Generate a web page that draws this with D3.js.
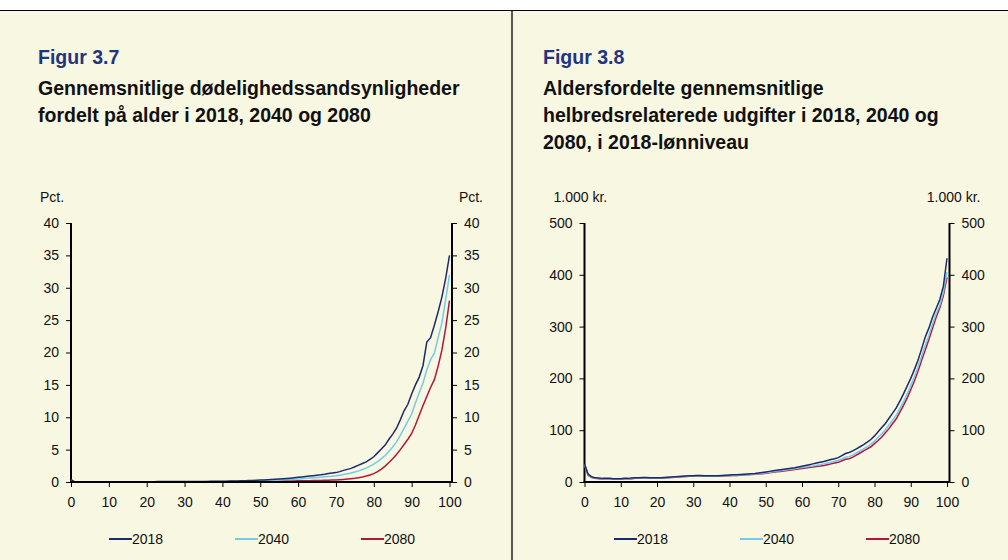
<!DOCTYPE html>
<html>
<head>
<meta charset="utf-8">
<script src="https://cdn.jsdelivr.net/npm/d3@7"></script>
<style>
  body { margin: 0; background: #fff; }
  svg { display: block; font-family: "Liberation Sans", Arial, sans-serif; }
</style>
</head>
<body>
<script>
// ages 0..100 (alder)
var ages = d3.range(0, 101);
var years = ["2018", "2040", "2080"];
var xTicks = [0, 10, 20, 30, 40, 50, 60, 70, 80, 90, 100];

// Figur 3.7 - dødelighedssandsynligheder, pct.
var mort2018 = [0.36, 0.03, 0.02, 0.01, 0.01, 0.01, 0.01, 0.01, 0.01, 0.01,
    0.01, 0.01, 0.01, 0.02, 0.02, 0.02, 0.03, 0.03, 0.04, 0.05,
    0.05, 0.05, 0.05, 0.06, 0.06, 0.06, 0.06, 0.06, 0.06, 0.07,
    0.07, 0.07, 0.07, 0.08, 0.08, 0.08, 0.09, 0.10, 0.11, 0.11,
    0.12, 0.13, 0.15, 0.16, 0.17, 0.19, 0.20, 0.22, 0.24, 0.26,
    0.29, 0.32, 0.34, 0.37, 0.41, 0.45, 0.49, 0.54, 0.59, 0.65,
    0.72, 0.78, 0.84, 0.91, 0.98, 1.06, 1.12, 1.2, 1.3, 1.38,
    1.45, 1.6, 1.8, 1.95, 2.1, 2.35, 2.6, 2.85, 3.1, 3.5,
    3.9, 4.5, 5.1, 5.7, 6.6, 7.4, 8.3, 9.6, 11.0, 12.0,
    13.6, 15.0, 16.2, 18.0, 21.6, 22.3, 24.2, 26.3, 28.6, 31.5,
    35.0];
var mort2040 = [0.26, 0.02, 0.01, 0.01, 0.01, 0.01, 0.01, 0.01, 0.01, 0.01,
    0.01, 0.01, 0.01, 0.01, 0.02, 0.02, 0.02, 0.02, 0.03, 0.03,
    0.04, 0.04, 0.04, 0.04, 0.04, 0.04, 0.04, 0.04, 0.04, 0.04,
    0.05, 0.05, 0.05, 0.05, 0.05, 0.05, 0.06, 0.06, 0.07, 0.07,
    0.08, 0.09, 0.10, 0.11, 0.12, 0.13, 0.14, 0.15, 0.17, 0.18,
    0.20, 0.22, 0.24, 0.26, 0.28, 0.31, 0.34, 0.37, 0.40, 0.44,
    0.48, 0.52, 0.56, 0.60, 0.65, 0.70, 0.75, 0.80, 0.85, 0.90,
    0.96, 1.05, 1.15, 1.27, 1.4, 1.55, 1.72, 1.92, 2.15, 2.45,
    2.75, 3.15, 3.6, 4.1, 4.75, 5.4, 6.2, 7.2, 8.3, 9.4,
    10.5, 12.2, 13.8, 15.3, 17.3, 18.9, 19.9, 22.3, 24.6, 28.2,
    32.0];
var mort2080 = [0.20, 0.01, 0.01, 0.01, 0.01, 0.01, 0.01, 0.01, 0.01, 0.01,
    0.01, 0.01, 0.01, 0.01, 0.01, 0.01, 0.02, 0.02, 0.02, 0.02,
    0.02, 0.02, 0.02, 0.02, 0.02, 0.02, 0.02, 0.02, 0.02, 0.02,
    0.02, 0.03, 0.03, 0.03, 0.03, 0.03, 0.03, 0.03, 0.03, 0.03,
    0.03, 0.04, 0.04, 0.05, 0.05, 0.06, 0.06, 0.07, 0.07, 0.08,
    0.09, 0.10, 0.10, 0.11, 0.12, 0.13, 0.14, 0.15, 0.16, 0.17,
    0.18, 0.19, 0.20, 0.21, 0.22, 0.23, 0.24, 0.26, 0.28, 0.30,
    0.32, 0.36, 0.40, 0.45, 0.51, 0.58, 0.67, 0.78, 0.92, 1.08,
    1.3, 1.6, 2.0, 2.45, 3.0, 3.6, 4.25, 5.0, 5.8, 6.6,
    7.5, 8.8, 10.3, 11.8, 13.2, 14.6, 15.8, 17.9, 20.4, 23.8,
    28.0];

// Figur 3.8 - helbredsrelaterede udgifter, 1.000 kr.
var cost2018 = [35, 15, 10, 8, 7.5, 7, 7, 7, 6.5, 6.5,
    6.5, 7, 7, 7.5, 8, 8, 8.5, 8.5, 8, 8,
    8, 8, 8.5, 9, 9.5, 10, 10.5, 11, 11.5, 12,
    12, 12.5, 12.5, 12, 12, 12, 12, 12, 12.5, 13,
    13.5, 14, 14, 14.5, 15, 15.5, 16, 16.5, 17.5, 18.5,
    19.5, 20.5, 21.5, 22.5, 23.5, 24.5, 25.5, 26.5, 27.5, 29,
    30.5, 32, 33.5, 35, 36.5, 38, 39.5, 41.5, 43.5, 45,
    47, 51, 55, 57, 60, 64, 68, 72, 77, 82,
    89, 97, 105, 113, 123, 133, 143, 156, 170, 185,
    200, 217, 235, 257, 280, 297, 318, 335, 352, 378,
    432];
var cost2040 = [34, 14, 9, 7.5, 7, 6.5, 6.5, 6.5, 6, 6,
    6, 6.5, 6.5, 7, 7.5, 7.5, 8, 8, 7.5, 7.5,
    7.5, 7.5, 8, 8.5, 9, 9.5, 10, 10.5, 11, 11.5,
    11.5, 12, 12, 11.5, 11.5, 11.5, 11.5, 11.5, 12, 12.5,
    12.5, 13, 13, 13.5, 14, 14.5, 15, 15.5, 16, 17,
    18, 19, 20, 21, 21.5, 22.5, 23.5, 24.5, 25.5, 27,
    28, 29, 30, 31, 32.5, 33.5, 35, 36.5, 38, 40,
    41.5, 44.5, 48, 49, 52, 56, 60, 64, 68, 73,
    79, 86, 93, 101, 110, 120, 129, 142, 155, 170,
    186, 203, 222, 243, 264, 283, 305, 325, 341, 366,
    405];
var cost2080 = [33, 13, 8.5, 7, 6.5, 6, 6, 6, 5.5, 5.5,
    5.5, 6, 6, 6.5, 7, 7, 7.5, 7.5, 7, 7,
    7, 7, 7.5, 8, 8.5, 9, 9.5, 10, 10.5, 11,
    11, 11.5, 11.5, 11, 11, 11, 11, 11, 11.5, 12,
    12, 12.5, 12.5, 13, 13.5, 14, 14.5, 15, 15.5, 16,
    17, 18, 19, 20, 20.5, 21, 22, 23, 24, 25,
    26, 27, 28, 29, 30, 31, 32, 33.5, 35, 36.5,
    38, 41, 44, 45, 48, 52, 56, 60, 64, 68,
    74, 80, 87, 95, 103, 113, 122, 135, 148, 162,
    178, 195, 214, 235, 255, 275, 297, 318, 336, 360,
    395];

var colors = { "2018": "#1c2a6e", "2040": "#74cbe8", "2080": "#b3163c" };

var svg = d3.select("body").append("svg")
    .attr("width", 1008)
    .attr("height", 560);

svg.append("rect").attr("x", 0).attr("y", 0).attr("width", 1008).attr("height", 560).attr("fill", "#ffffff");
svg.append("rect").attr("x", 0).attr("y", 10).attr("width", 1008).attr("height", 550).attr("fill", "#f8f7e1");
svg.append("line").attr("x1", 0).attr("x2", 1008).attr("y1", 10.5).attr("y2", 10.5)
    .attr("stroke", "#000").attr("stroke-width", 1);
svg.append("line").attr("x1", 512).attr("x2", 512).attr("y1", 10).attr("y2", 560)
    .attr("stroke", "#000").attr("stroke-width", 1.3);

function drawPanel(opts) {
    var g = svg.append("g");

    g.append("text")
        .attr("x", opts.left).attr("y", 64)
        .attr("fill", "#1f3580")
        .attr("font-weight", "bold")
        .attr("font-size", 19.5)
        .text(opts.figur);
    opts.title.forEach(function (t, i) {
        g.append("text")
            .attr("x", opts.left).attr("y", 95 + i * 27)
            .attr("fill", "#111")
            .attr("font-weight", "bold")
            .attr("font-size", 19.5)
            .text(t);
    });

    var x = d3.scaleLinear().domain([0, 100]).range(opts.xRange);
    var y = d3.scaleLinear().domain([0, opts.yMax]).range([482, 223]);
    var xEnd = opts.xRange[1] + 2.5;

    var yl = g.append("g").attr("transform", "translate(" + opts.xRange[0] + ",0)")
        .call(d3.axisLeft(y).tickValues(opts.yTicks).tickSize(5).tickPadding(7));
    var yr = g.append("g").attr("transform", "translate(" + xEnd + ",0)")
        .call(d3.axisRight(y).tickValues(opts.yTicks).tickSize(5).tickPadding(7));
    var xa = g.append("g").attr("transform", "translate(0,482)")
        .call(d3.axisBottom(x).tickValues(xTicks).tickSize(5).tickPadding(7));

    [yl, yr, xa].forEach(function (a) {
        a.select(".domain").remove();
        a.selectAll("line").attr("stroke", "#000").attr("stroke-width", 1);
        a.selectAll("text").attr("font-size", 14).attr("fill", "#111")
            .attr("font-family", "Liberation Sans, Arial, sans-serif");
    });
    xa.selectAll("text").attr("dy", "0.9em");

    // axis lines
    g.append("line").attr("x1", opts.xRange[0]).attr("x2", opts.xRange[0])
        .attr("y1", y(opts.yMax)).attr("y2", y(0)).attr("stroke", "#000").attr("stroke-width", 2);
    g.append("line").attr("x1", xEnd).attr("x2", xEnd)
        .attr("y1", y(opts.yMax)).attr("y2", y(0)).attr("stroke", "#000").attr("stroke-width", 2);

    g.append("text").attr("x", opts.xRange[0] - 31).attr("y", 202)
        .attr("font-size", 14).attr("fill", "#111").text(opts.unit);
    g.append("text").attr("x", xEnd + 31).attr("y", 202)
        .attr("text-anchor", "end")
        .attr("font-size", 14).attr("fill", "#111").text(opts.unit);

    var line = d3.line()
        .x(function (d, i) { return x(ages[i]); })
        .y(function (d) { return y(d); });

    opts.series.slice().reverse().forEach(function (s, k) {
        var yr2 = years[years.length - 1 - k];
        g.append("path")
            .datum(s)
            .attr("d", line)
            .attr("fill", "none")
            .attr("stroke", colors[yr2])
            .attr("stroke-width", 1.5);
    });

    g.append("line").attr("x1", opts.xRange[0] - 1).attr("x2", xEnd)
        .attr("y1", y(0)).attr("y2", y(0)).attr("stroke", "#000").attr("stroke-width", 2);

    // legend
    years.forEach(function (yrName, i) {
        var lx = opts.legendX + i * 126;
        g.append("line").attr("x1", lx).attr("x2", lx + 23)
            .attr("y1", 539).attr("y2", 539)
            .attr("stroke", colors[yrName]).attr("stroke-width", 2);
        g.append("text").attr("x", lx + 23).attr("y", 544)
            .attr("font-size", 14).attr("fill", "#111").text(yrName);
    });
}

drawPanel({
    left: 38,
    figur: "Figur 3.7",
    title: ["Gennemsnitlige dødelighedssandsynligheder", "fordelt på alder i 2018, 2040 og 2080"],
    xRange: [71, 449.5],
    yMax: 40,
    yTicks: [0, 5, 10, 15, 20, 25, 30, 35, 40],
    unit: "Pct.",
    series: [mort2018, mort2040, mort2080],
    legendX: 109
});

drawPanel({
    left: 543,
    figur: "Figur 3.8",
    title: ["Aldersfordelte gennemsnitlige", "helbredsrelaterede udgifter i 2018, 2040 og", "2080, i 2018-lønniveau"],
    xRange: [584.5, 947],
    yMax: 500,
    yTicks: [0, 100, 200, 300, 400, 500],
    unit: "1.000 kr.",
    series: [cost2018, cost2040, cost2080],
    legendX: 614
});
</script>
</body>
</html>
